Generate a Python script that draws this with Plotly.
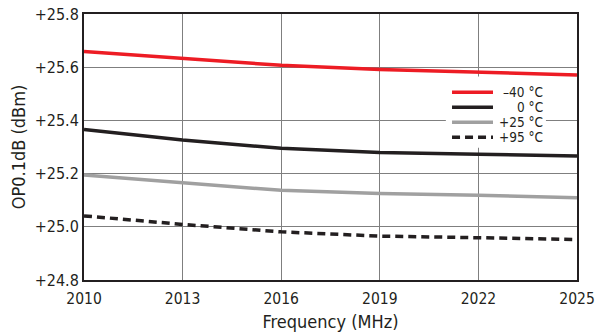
import plotly.graph_objects as go

freq = [2010, 2013, 2016, 2019, 2022, 2025]
op_m40 = [25.659, 25.632, 25.607, 25.591, 25.581, 25.571]
op_0 = [25.366, 25.326, 25.295, 25.279, 25.273, 25.266]
op_25 = [25.195, 25.166, 25.137, 25.125, 25.119, 25.109]
op_95 = [25.041, 25.009, 24.981, 24.965, 24.959, 24.952]

names = ["\u201340 \u00b0C", "0 \u00b0C", "+25 \u00b0C", "+95 \u00b0C"]
y_ticks = [24.8, 25.0, 25.2, 25.4, 25.6, 25.8]
y_tick_text = ["+24.8", "+25.0", "+25.2", "+25.4", "+25.6", "+25.8"]
x_ticks = [2010, 2013, 2016, 2019, 2022, 2025]

FONT = "DejaVu Sans Condensed"
INK = "#231f20"

fig = go.Figure()
styles = [
    dict(color="#ed1c24", width=3.5),
    dict(color=INK, width=3.5),
    dict(color="#a0a0a0", width=3.5),
    dict(color=INK, width=3.5, dash="8px,5px"),
]
for name, ys, st in zip(names, [op_m40, op_0, op_25, op_95], styles):
    fig.add_trace(go.Scatter(x=freq, y=ys, mode="lines", name=name, line=st,
                             showlegend=False))

# legend key drawn inside the plot, like the original
shapes = [dict(type="rect", xref="paper", yref="paper", x0=0.734, x1=0.937,
               y0=0.497, y1=0.765, fillcolor="white", line=dict(width=0),
               layer="above")]
annotations = []
key_y = [0.7056, 0.6492, 0.5929, 0.5365]
for name, st, ky in zip(names, styles, key_y):
    shapes.append(dict(type="line", xref="paper", yref="paper",
                       x0=0.7465, x1=0.8296, y0=ky, y1=ky, layer="above",
                       line=dict(color=st["color"], width=st["width"],
                                 dash=st.get("dash", "solid"))))
    annotations.append(dict(xref="paper", yref="paper", x=0.936, y=ky,
                            xanchor="right", yanchor="middle", text=name,
                            showarrow=False,
                            font=dict(family=FONT, size=13.5, color=INK)))

fig.update_layout(
    width=595, height=335,
    margin=dict(l=84, r=18, t=14, b=55),
    paper_bgcolor="white", plot_bgcolor="white",
    font=dict(family=FONT, size=15, color=INK),
    showlegend=False,
    shapes=shapes,
    annotations=annotations,
    xaxis=dict(
        range=[2010, 2025], tickvals=x_ticks, ticktext=[str(v) for v in x_ticks],
        showgrid=True, gridcolor="#7f7f7f", gridwidth=1,
        showline=True, linecolor=INK, linewidth=2, mirror=True,
        ticks="", zeroline=False, automargin=False,
        ticklabeloverflow="allow", ticklabelstandoff=3,
        title=dict(text="Frequency (MHz)", font=dict(size=18), standoff=9),
        tickfont=dict(size=15.5),
    ),
    yaxis=dict(
        range=[24.8, 25.8], tickvals=y_ticks, ticktext=y_tick_text,
        showgrid=True, gridcolor="#7f7f7f", gridwidth=1,
        showline=True, linecolor=INK, linewidth=2, mirror=True,
        ticks="", zeroline=False, automargin=False,
        ticklabeloverflow="allow",
        title=dict(text="OP0.1dB (dBm)", font=dict(size=18), standoff=4),
        tickfont=dict(size=16),
    ),
)

fig.write_html("out.html", config={"displayModeBar": False},
               post_script="document.body.style.margin='0';")
